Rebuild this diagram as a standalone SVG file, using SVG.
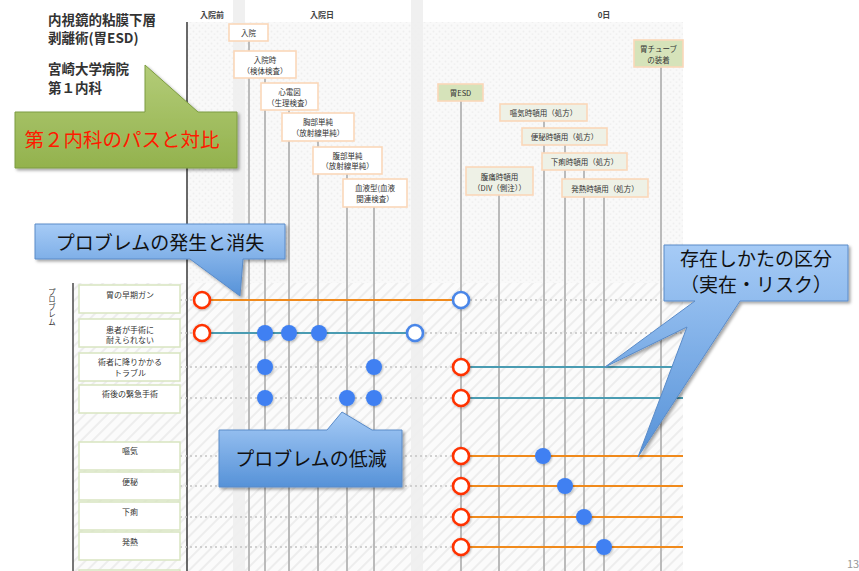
<svg xmlns="http://www.w3.org/2000/svg" width="859" height="571" viewBox="0 0 859 571">
<style>
text{font-family:"Noto Sans CJK JP","Noto Sans",sans-serif;}
.title{font-size:13.5px;fill:#333;font-weight:bold;}
.hdr{font-size:8px;fill:#444;text-anchor:middle;font-weight:bold;}
.bx{fill:#fff;stroke:#fbd7b9;stroke-width:1.6;}
.bxg{fill:#d6e3ba;stroke:#fbd7b9;stroke-width:1.6;}
.bxl{fill:#eef1e6;stroke:#fbd7b9;stroke-width:1.6;}
.bt{font-size:7.5px;fill:#333;text-anchor:middle;}
.pb{fill:#fff;stroke:#d8e5c0;stroke-width:1.5;}
.pt{font-size:8px;fill:#333;text-anchor:middle;}
.vt{font-size:7.5px;fill:#333;writing-mode:vertical-rl;}
.vl{stroke:#b4b4b4;stroke-width:1.8;}
.row{stroke:#c4c4c4;stroke-width:1.3;stroke-dasharray:2 3;}
.or{stroke:#f08a1c;stroke-width:2.2;}
.tl{stroke:#4a9cb2;stroke-width:2.2;}
.rc{fill:#fff;stroke:#ff3300;stroke-width:2.6;}
.bc{fill:#fff;stroke:#4a86e8;stroke-width:2.6;}
.bd{fill:#3f80f2;}
.blue{fill:url(#gb);stroke:#5a8bc8;stroke-width:1;filter:url(#sh);}
.ct{font-size:19px;fill:#111;text-anchor:middle;}
</style>
<defs>
<linearGradient id="gb" x1="0" y1="0" x2="0" y2="1">
<stop offset="0" stop-color="#a6cbf6"/>
<stop offset="1" stop-color="#5692d8"/>
</linearGradient>
<linearGradient id="gg" x1="0" y1="0" x2="0" y2="1">
<stop offset="0" stop-color="#b3cc78"/>
<stop offset="1" stop-color="#93b24d"/>
</linearGradient>
<filter id="sh" x="-10%" y="-10%" width="130%" height="140%">
<feDropShadow dx="2" dy="2" stdDeviation="1.8" flood-color="#000" flood-opacity="0.35"/>
</filter>
<filter id="ds" x="-50%" y="-50%" width="200%" height="200%">
<feDropShadow dx="0.8" dy="1" stdDeviation="0.8" flood-color="#000" flood-opacity="0.3"/>
</filter>
<pattern id="hatch" width="8" height="8" patternUnits="userSpaceOnUse" patternTransform="rotate(45)">
<rect width="8" height="8" fill="#fbfbfb"/>
<rect width="2" height="8" fill="#ededed"/>
</pattern>
<pattern id="speck" width="6" height="6" patternUnits="userSpaceOnUse">
<rect width="6" height="6" fill="#f9f9f9"/>
<circle cx="1.5" cy="1.5" r="0.9" fill="#eeeeee"/>
<circle cx="4.5" cy="4.2" r="0.9" fill="#f0f0f0"/>
</pattern>
</defs>
<rect width="859" height="571" fill="#fff"/>
<g id="background">
<rect x="187" y="22" width="496" height="261" fill="url(#speck)"/>
<rect x="73" y="283" width="610" height="288" fill="url(#hatch)"/>
<rect x="233" y="0" width="12" height="571" fill="#eeeeee" opacity="0.9"/>
<rect x="411" y="0" width="12" height="571" fill="#eeeeee" opacity="0.9"/>
<line x1="187" y1="22" x2="187" y2="571" stroke="#444" stroke-width="1.6"/>
<line x1="73" y1="283" x2="73" y2="571" stroke="#555" stroke-width="1.6"/>
<text class="hdr" x="212" y="18">入院前</text>
<text class="hdr" x="322" y="18">入院日</text>
<text class="hdr" x="604" y="18">0日</text>
</g>
<g id="title">
<text class="title" x="48" y="25">内視鏡的粘膜下層</text>
<text class="title" x="48" y="43">剥離術(胃ESD)</text>
<text class="title" x="48" y="74">宮崎大学病院</text>
<text class="title" x="48" y="93">第１内科</text>
</g>
<g id="connectors">
<g id="timeline-lines">
<line class="vl" x1="249" y1="41" x2="249" y2="571"/>
<line class="vl" x1="265" y1="78" x2="265" y2="571"/>
<line class="vl" x1="289" y1="110" x2="289" y2="571"/>
<line class="vl" x1="318" y1="141" x2="318" y2="571"/>
<line class="vl" x1="347" y1="174" x2="347" y2="571"/>
<line class="vl" x1="374" y1="207" x2="374" y2="571"/>
<line class="vl" x1="461" y1="101" x2="461" y2="571"/>
<line class="vl" x1="499" y1="195" x2="499" y2="571"/>
<line class="vl" x1="544" y1="121" x2="544" y2="571"/>
<line class="vl" x1="565" y1="145" x2="565" y2="571"/>
<line class="vl" x1="584" y1="170" x2="584" y2="571"/>
<line class="vl" x1="604" y1="197" x2="604" y2="571"/>
<line class="vl" x1="661" y1="67" x2="661" y2="571"/>
</g>
<g id="row-guides">
<line class="row" x1="180" y1="300" x2="683" y2="300"/>
<line class="row" x1="180" y1="333" x2="683" y2="333"/>
<line class="row" x1="180" y1="367" x2="683" y2="367"/>
<line class="row" x1="180" y1="398" x2="683" y2="398"/>
<line class="row" x1="180" y1="456" x2="683" y2="456"/>
<line class="row" x1="180" y1="486" x2="683" y2="486"/>
<line class="row" x1="180" y1="517" x2="683" y2="517"/>
<line class="row" x1="180" y1="547" x2="683" y2="547"/>
</g>
<g id="problem-spans">
<line class="or" x1="202" y1="300" x2="461" y2="300"/>
<line class="tl" x1="202" y1="333" x2="415" y2="333"/>
<line class="tl" x1="461" y1="367" x2="683" y2="367"/>
<line class="tl" x1="461" y1="398" x2="683" y2="398"/>
<line class="or" x1="461" y1="456" x2="683" y2="456"/>
<line class="or" x1="461" y1="486" x2="683" y2="486"/>
<line class="or" x1="461" y1="517" x2="683" y2="517"/>
<line class="or" x1="461" y1="547" x2="683" y2="547"/>
</g>
</g>
<g id="markers" filter="url(#ds)">
<circle class="rc" cx="202" cy="300" r="8"/>
<circle class="bc" cx="461" cy="300" r="8"/>
<circle class="rc" cx="202" cy="333" r="8"/>
<circle class="bd" cx="265" cy="333" r="8"/>
<circle class="bd" cx="289" cy="333" r="8"/>
<circle class="bd" cx="319" cy="333" r="8"/>
<circle class="bc" cx="415" cy="333" r="8"/>
<circle class="bd" cx="265" cy="367" r="8"/>
<circle class="bd" cx="374" cy="367" r="8"/>
<circle class="rc" cx="461" cy="367" r="8"/>
<circle class="bd" cx="265" cy="398" r="8"/>
<circle class="bd" cx="347" cy="398" r="8"/>
<circle class="bd" cx="374" cy="398" r="8"/>
<circle class="rc" cx="461" cy="398" r="8"/>
<circle class="rc" cx="461" cy="456" r="8"/>
<circle class="bd" cx="543" cy="456" r="8"/>
<circle class="rc" cx="461" cy="486" r="8"/>
<circle class="bd" cx="565" cy="486" r="8"/>
<circle class="rc" cx="461" cy="517" r="8"/>
<circle class="bd" cx="584" cy="517" r="8"/>
<circle class="rc" cx="461" cy="547" r="8"/>
<circle class="bd" cx="604" cy="547" r="8"/>
</g>
<g id="n-nyuin"><rect class="bx" x="229" y="24" width="39" height="17"/><text class="bt" x="248.5" y="35.5">入院</text></g>
<g id="n-kentai"><rect class="bx" x="234" y="51" width="62" height="27"/><text class="bt" x="265" y="63">入院時</text><text class="bt" x="265" y="73.5">（検体検査）</text></g>
<g id="n-shindenzu"><rect class="bx" x="261" y="83" width="57" height="27"/><text class="bt" x="289.5" y="95">心電図</text><text class="bt" x="289.5" y="105.5">（生理検査）</text></g>
<g id="n-kyobu"><rect class="bx" x="282" y="113" width="72" height="28"/><text class="bt" x="318" y="125">胸部単純</text><text class="bt" x="318" y="136">（放射線単純）</text></g>
<g id="n-fukubu"><rect class="bx" x="313" y="147" width="69" height="27"/><text class="bt" x="347.5" y="158.5">腹部単純</text><text class="bt" x="347.5" y="169">（放射線単純）</text></g>
<g id="n-ketsueki"><rect class="bx" x="343" y="179" width="64" height="28"/><text class="bt" x="375" y="191">血液型(血液</text><text class="bt" x="375" y="202">関連検査）</text></g>
<g id="n-esd"><rect class="bxg" x="438" y="84" width="45" height="17"/><text class="bt" x="460.5" y="96">胃ESD</text></g>
<g id="n-tube"><rect class="bxg" x="634" y="40" width="49" height="27"/><text class="bt" x="658.5" y="52">胃チューブ</text><text class="bt" x="658.5" y="62.5">の装着</text></g>
<g id="n-oki"><rect class="bxl" x="500" y="104" width="87" height="17"/><text class="bt" x="543.5" y="116">嘔気時頓用（処方）</text></g>
<g id="n-benpi"><rect class="bxl" x="522" y="128" width="85" height="17"/><text class="bt" x="564.5" y="140">便秘時頓用（処方）</text></g>
<g id="n-geri"><rect class="bxl" x="542" y="153" width="85" height="17"/><text class="bt" x="584.5" y="165">下痢時頓用（処方）</text></g>
<g id="n-fukutsu"><rect class="bxl" x="466" y="167" width="67" height="28"/><text class="bt" x="499.5" y="180">腹痛時頓用</text><text class="bt" x="499.5" y="190.5">（DIV（側注））</text></g>
<g id="n-hatsunetsu"><rect class="bxl" x="562" y="179" width="86" height="18"/><text class="bt" x="605" y="192">発熱時頓用（処方）</text></g>
<g id="problem-axis">
<text class="vt" x="52" y="288">プロブレム</text>
</g>
<g id="p-gan"><rect class="pb" x="79" y="285" width="101" height="28"/><text class="pt" x="130" y="297.5">胃の早期ガン</text></g>
<g id="p-taerarenai"><rect class="pb" x="79" y="319" width="101" height="28"/><text class="pt" x="130" y="333">患者が手術に</text><text class="pt" x="130" y="343">耐えられない</text></g>
<g id="p-trouble"><rect class="pb" x="79" y="353" width="101" height="28"/><text class="pt" x="130" y="365">術者に降りかかる</text><text class="pt" x="130" y="376">トラブル</text></g>
<g id="p-kinkyu"><rect class="pb" x="79" y="385" width="101" height="28"/><text class="pt" x="130" y="397">術後の緊急手術</text></g>
<g id="p-oki"><rect class="pb" x="79" y="442" width="101" height="28"/><text class="pt" x="130" y="454">嘔気</text></g>
<g id="p-benpi"><rect class="pb" x="79" y="472" width="101" height="28"/><text class="pt" x="130" y="485">便秘</text></g>
<g id="p-geri"><rect class="pb" x="79" y="502" width="101" height="28"/><text class="pt" x="130" y="515">下痢</text></g>
<g id="p-hatsunetsu"><rect class="pb" x="79" y="532" width="101" height="28"/><text class="pt" x="130" y="545">発熱</text></g>
<rect class="pb" x="79" y="570" width="101" height="10"/>
<g id="callout-compare">
<path d="M15,112 H145 V65 L198,112 H237 V168 H15 Z" fill="url(#gg)" stroke="#7c9c40" stroke-width="1" filter="url(#sh)"/>
<text x="122" y="147" font-size="19.5" fill="#ff1a00" text-anchor="middle">第２内科のパスと対比</text>
</g>
<g id="callout-hassei">
<path class="blue" d="M35,224 H285 V259 H243 L240,296 L190,259 H35 Z"/>
<text class="ct" x="160" y="250">プロブレムの発生と消失</text>
</g>
<g id="callout-teigen">
<path class="blue" d="M219,430 H327 L342,412 L372,430 H402 V487 H219 Z"/>
<text class="ct" x="311" y="466">プロブレムの低減</text>
</g>
<g id="callout-kubun">
<path class="blue" d="M664,245 H848 V301 H740 L638,457 L687,327 L605,367 L695,301 H664 Z"/>
<text class="ct" x="756" y="266" font-size="18">存在しかたの区分</text>
<text class="ct" x="756" y="292" font-size="18">（実在・リスク）</text>
</g>
<text x="853" y="568" font-size="11" fill="#999" text-anchor="middle">13</text>
</svg>
